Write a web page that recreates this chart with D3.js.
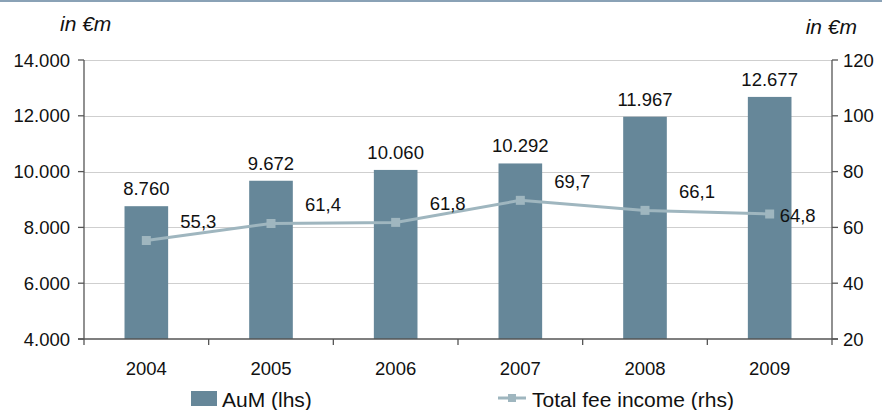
<!DOCTYPE html>
<html>
<head>
<meta charset="utf-8">
<script src="https://cdn.jsdelivr.net/npm/d3@7"></script>
<style>
  html, body { margin: 0; padding: 0; background: #fff; }
  svg { display: block; font-family: "Liberation Sans", Arial, sans-serif; }
</style>
</head>
<body>
<svg id="chart" width="882" height="410"></svg>
<script>
// Assets under management (left axis) and total fee income (right axis), in €m
const years = ["2004", "2005", "2006", "2007", "2008", "2009"];
const aum = [8760, 9672, 10060, 10292, 11967, 12677];
const feeIncome = [55.3, 61.4, 61.8, 69.7, 66.1, 64.8];
const leftTicks = [4000, 6000, 8000, 10000, 12000, 14000];
const rightTicks = [20, 40, 60, 80, 100, 120];

const barColor = "#668799";
const lineColor = "#9fb6bf";
const axisColor = "#555555";
const gridColor = "#cfcfcf";
const textColor = "#111";
const fs = 18.5;      // tick and value labels
const fsBig = 21;     // legend and unit labels

const svg = d3.select("#chart");
const W = 882, H = 410;
const plotL = 84, plotR = 832, plotT = 60, plotB = 339;

// Top rule
svg.append("rect").attr("x", 0).attr("y", 0).attr("width", W).attr("height", 2).attr("fill", "#8aa2b6");

const x = d3.scaleBand().domain(years).range([plotL, plotR]).paddingInner(0.65).paddingOuter(0.325);
const yL = d3.scaleLinear().domain([4000, 14000]).range([plotB, plotT]);
const yR = d3.scaleLinear().domain([20, 120]).range([plotB, plotT]);

const deLocale = d3.formatLocale({ decimal: ",", thousands: ".", grouping: [3], currency: ["", "€"] });
const fmtL = deLocale.format(",.0f");
const fmtR = deLocale.format(",.1f");

// Gridlines
svg.append("g").selectAll("line").data(leftTicks.slice(1)).join("line")
  .attr("x1", plotL).attr("x2", plotR)
  .attr("y1", d => Math.round(yL(d)) + 0.5).attr("y2", d => Math.round(yL(d)) + 0.5)
  .attr("stroke", gridColor).attr("stroke-width", 1);

// Bars
svg.append("g").selectAll("rect").data(years).join("rect")
  .attr("x", d => x(d))
  .attr("width", x.bandwidth())
  .attr("y", (d, i) => yL(aum[i]))
  .attr("height", (d, i) => plotB - yL(aum[i]))
  .attr("fill", barColor);

// Bar value labels
svg.append("g").selectAll("text").data(years).join("text")
  .attr("x", d => x(d) + x.bandwidth() / 2)
  .attr("y", (d, i) => yL(aum[i]) - 11)
  .attr("text-anchor", "middle")
  .attr("font-size", fs)
  .attr("fill", textColor)
  .text((d, i) => fmtL(aum[i]));

// Fee income line
const cx = d => x(d) + x.bandwidth() / 2;
const line = d3.line().x((d, i) => cx(years[i])).y(d => yR(d));
svg.append("path").datum(feeIncome)
  .attr("d", line)
  .attr("fill", "none")
  .attr("stroke", lineColor)
  .attr("stroke-width", 3);

svg.append("g").selectAll("rect").data(feeIncome).join("rect")
  .attr("x", (d, i) => cx(years[i]) - 4.5)
  .attr("y", d => yR(d) - 4.5)
  .attr("width", 9).attr("height", 9)
  .attr("fill", lineColor);

// Line value labels
const last = feeIncome.length - 1;
svg.append("g").selectAll("text").data(feeIncome).join("text")
  .attr("x", (d, i) => i === last ? cx(years[i]) + 10 : cx(years[i]) + 52)
  .attr("y", (d, i) => i === last ? yR(d) + 1 : yR(d) - 19)
  .attr("text-anchor", (d, i) => i === last ? "start" : "middle")
  .attr("dominant-baseline", "central")
  .attr("font-size", fs)
  .attr("fill", textColor)
  .text(d => fmtR(d));

// Axes
const axes = svg.append("g").attr("stroke", axisColor).attr("stroke-width", 1.3);
axes.append("line").attr("x1", plotL).attr("x2", plotL).attr("y1", plotT).attr("y2", plotB + 6);
axes.append("line").attr("x1", plotR).attr("x2", plotR).attr("y1", plotT).attr("y2", plotB + 6);
axes.append("line").attr("x1", plotL - 6).attr("x2", plotR + 6).attr("y1", plotB).attr("y2", plotB);
axes.selectAll(".tl").data(leftTicks).join("line").attr("class", "tl")
  .attr("x1", plotL - 6).attr("x2", plotL).attr("y1", d => yL(d)).attr("y2", d => yL(d));
axes.selectAll(".tr").data(rightTicks).join("line").attr("class", "tr")
  .attr("x1", plotR).attr("x2", plotR + 6).attr("y1", d => yR(d)).attr("y2", d => yR(d));
axes.selectAll(".tb").data(years.slice(1)).join("line").attr("class", "tb")
  .attr("x1", d => x(d) - x.step() * x.paddingInner() / 2)
  .attr("x2", d => x(d) - x.step() * x.paddingInner() / 2)
  .attr("y1", plotB).attr("y2", plotB + 6);

// Tick labels
svg.append("g").selectAll("text").data(leftTicks).join("text")
  .attr("x", plotL - 14).attr("y", d => yL(d))
  .attr("text-anchor", "end").attr("dominant-baseline", "central")
  .attr("font-size", fs).attr("fill", textColor)
  .text(d => fmtL(d));
svg.append("g").selectAll("text").data(rightTicks).join("text")
  .attr("x", plotR + 11).attr("y", d => yR(d))
  .attr("text-anchor", "start").attr("dominant-baseline", "central")
  .attr("font-size", fs).attr("fill", textColor)
  .text(d => d);
svg.append("g").selectAll("text").data(years).join("text")
  .attr("x", d => cx(d)).attr("y", 368)
  .attr("text-anchor", "middle").attr("dominant-baseline", "central")
  .attr("font-size", fs).attr("fill", textColor)
  .text(d => d);

// Unit labels
svg.append("text").attr("x", 60).attr("y", 23).attr("dominant-baseline", "central")
  .attr("font-size", fsBig).attr("font-style", "italic").attr("fill", textColor).text("in €m");
svg.append("text").attr("x", 857).attr("y", 26).attr("text-anchor", "end").attr("dominant-baseline", "central")
  .attr("font-size", fsBig).attr("font-style", "italic").attr("fill", textColor).text("in €m");

// Legend
const lg = svg.append("g");
lg.append("rect").attr("x", 191).attr("y", 391).attr("width", 26).attr("height", 15).attr("fill", barColor);
lg.append("text").attr("x", 222).attr("y", 399).attr("dominant-baseline", "central")
  .attr("font-size", fsBig).attr("fill", textColor).text("AuM (lhs)");
lg.append("line").attr("x1", 498).attr("x2", 526).attr("y1", 398).attr("y2", 398)
  .attr("stroke", lineColor).attr("stroke-width", 3);
lg.append("rect").attr("x", 508).attr("y", 394).attr("width", 8).attr("height", 8).attr("fill", lineColor);
lg.append("text").attr("x", 532).attr("y", 399).attr("dominant-baseline", "central")
  .attr("font-size", fsBig).attr("fill", textColor).text("Total fee income (rhs)");
</script>
</body>
</html>
